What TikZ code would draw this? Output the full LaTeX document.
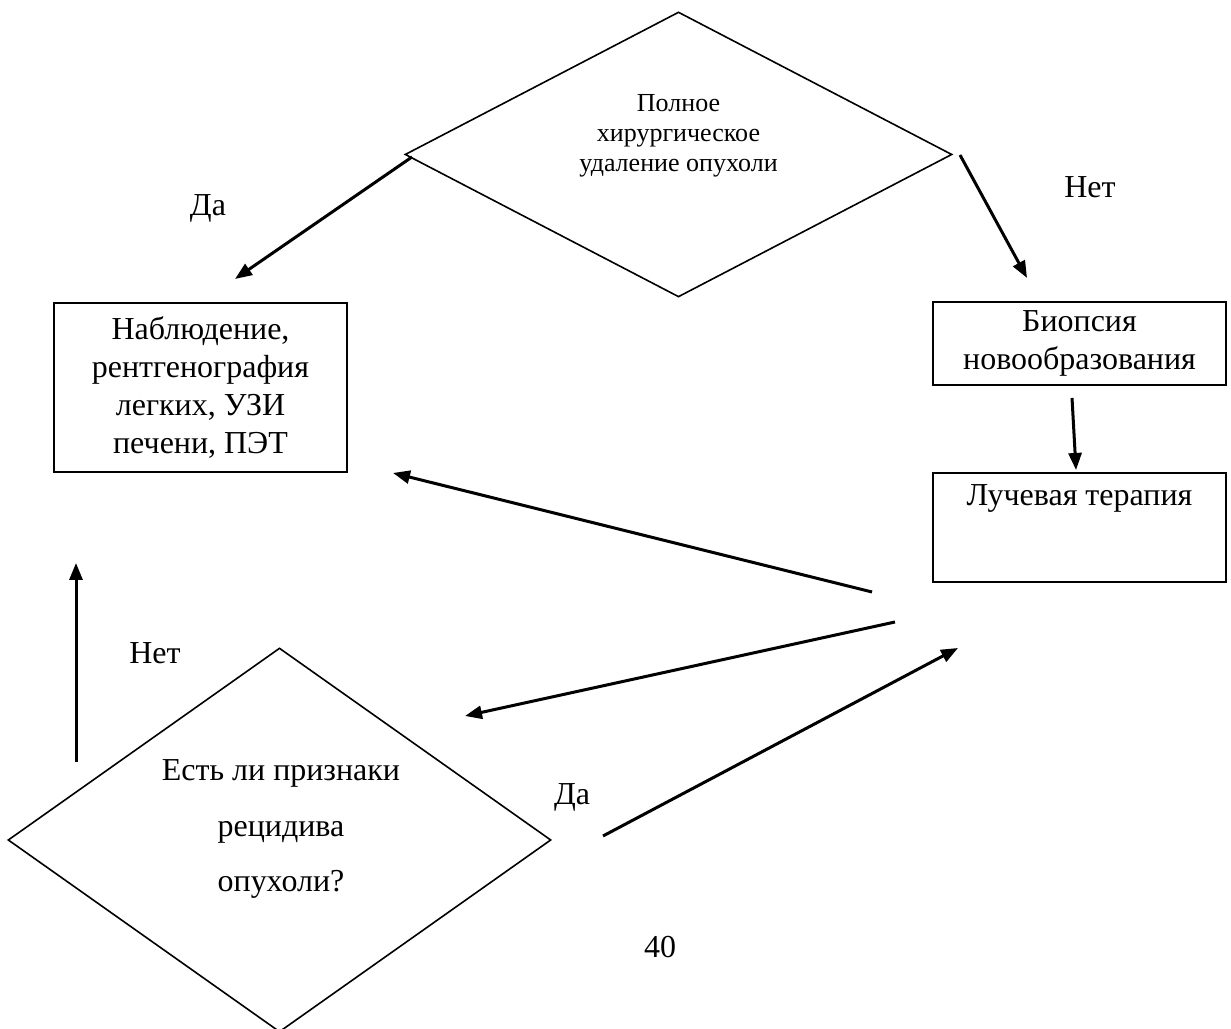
\documentclass[tikz,border=0pt]{standalone}
\usepackage{fontspec}
\setmainfont{Liberation Serif}
\usetikzlibrary{arrows.meta,positioning,shapes.geometric}

\tikzset{
	decision/.style={diamond,draw,line width=0.016cm,inner sep=0pt,minimum width=#1},
	box/.style={rectangle,draw,line width=0.022cm,inner sep=0pt,align=center,minimum width=2.93cm},
	arrow/.style={line width=0.03cm,-{Triangle[length=0.17cm,width=0.13cm]}},
	label/.style={inner sep=0pt,font=\fontsize{9.1}{10.8}\selectfont}
}

\begin{document}
\begin{tikzpicture}
	\useasboundingbox (0,0) rectangle (12.310000,10.290000);
	{\fontsize{9.1}{10.8}\selectfont

	% Decision: full removal
	\node [decision=5.470000cm, minimum height=2.850000cm] (q1) at (6.785000,8.745000) {};%
	\node [align=center, font=\fontsize{7.4}{8.5}\selectfont] (q1t) at (6.785000,8.930000)
		{Полное\\хирургическое\\удаление опухоли};%

	% Observation box
	\node [box, minimum height=1.690000cm] (obs) at (2.005000,6.415000)
		{Наблюдение,\\рентгенография\\легких, УЗИ\\печени, ПЭТ};%

	% Biopsy box
	\node [box, minimum height=0.830000cm] (bio) at (10.795000,6.855000)
		{Биопсия\\новообразования};%

	% Radiotherapy box
	\node [box, minimum height=1.090000cm] (rad) at (10.795000,5.015000) {};%
	\node [label, anchor=north] (radt) at ([yshift=-0.120000cm]rad.north) {Лучевая терапия};%

	% Decision: relapse
	\node [decision=5.430000cm, minimum height=3.840000cm] (q2) at (2.795000,1.890000) {};%
	\node [align=center, font=\fontsize{9.1}{15.9}\selectfont] (q2t) at (2.810000,2.000000)
		{Есть ли признаки\\рецидива\\опухоли?};%

	% Labels
	\node [label] (yes1) at (2.080000,8.210000) {Да};%
	\node [label] (no1) at (10.900000,8.420000) {Нет};%
	\node [label] (no2) at (1.550000,3.760000) {Нет};%
	\node [label] (yes2) at (5.720000,2.320000) {Да};%
	\node [label] (page) at (6.600000,0.820000) {40};%

	% Arrow ends
	\coordinate (a1s) at (4.120000,8.720000);
	\coordinate (a1e) at (2.350000,7.500000);
	\coordinate (a2s) at (9.600000,8.740000);
	\coordinate (a2e) at (10.270000,7.510000);
	\coordinate (a3s) at (10.720000,6.310000);
	\coordinate (a3e) at (10.760000,5.590000);
	\coordinate (a4s) at (8.720000,4.370000);
	\coordinate (a4e) at (3.930000,5.560000);
	\coordinate (a5s) at (8.950000,4.070000);
	\coordinate (a5e) at (4.650000,3.130000);
	\coordinate (a6s) at (6.030000,1.930000);
	\coordinate (a6e) at (9.580000,3.810000);
	\coordinate (a7s) at (0.760000,2.670000);
	\coordinate (a7e) at (0.760000,4.660000);

	% Drawing arrows
	\draw [arrow] (a1s) -- (a1e);%
	\draw [arrow] (a2s) -- (a2e);%
	\draw [arrow] (a3s) -- (a3e);%
	\draw [arrow] (a4s) -- (a4e);%
	\draw [arrow] (a5s) -- (a5e);%
	\draw [arrow] (a6s) -- (a6e);%
	\draw [arrow] (a7s) -- (a7e);%
	}
\end{tikzpicture}
\end{document}
